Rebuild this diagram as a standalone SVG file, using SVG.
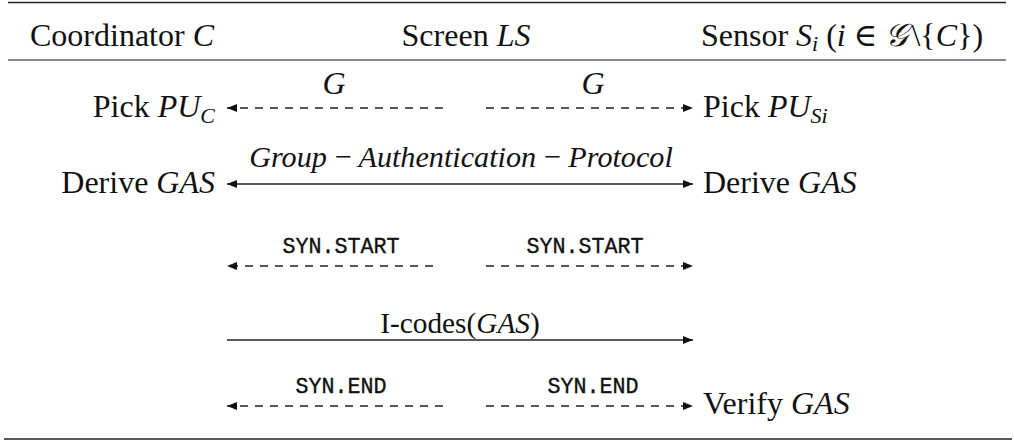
<svg xmlns="http://www.w3.org/2000/svg" width="1014" height="441" viewBox="0 0 1014 441">
<defs>
<style>
.t{font-family:"Liberation Serif","DejaVu Serif",serif;font-size:32px;fill:#111}
.i{font-style:italic}
.m{font-family:"Liberation Mono","DejaVu Sans Mono",monospace;font-size:21.7px;fill:#111;stroke:#111;stroke-width:0.35}
.l{fill:none;stroke:#222;stroke-width:1.3}
.d{stroke-dasharray:8 7}
</style>
<marker id="ah" viewBox="0 0 10 8" refX="10" refY="4" markerWidth="10" markerHeight="8" markerUnits="userSpaceOnUse" orient="auto-start-reverse">
<path d="M0,0 L10,4 L0,8 Z" fill="#111"/>
</marker>
</defs>
<rect width="1014" height="441" fill="#fff"/>
<g id="rules">
<line x1="8" y1="2.5" x2="1006" y2="2.5" stroke="#222" stroke-width="1.5"/>
<line x1="8" y1="60" x2="1006" y2="60" stroke="#888" stroke-width="2"/>
<line x1="4" y1="439" x2="1012" y2="439" stroke="#222" stroke-width="1.5"/>
</g>
<g id="header">
<text class="t" x="122" y="46" text-anchor="middle">Coordinator <tspan class="i">C</tspan></text>
<text class="t" x="466" y="46" text-anchor="middle">Screen <tspan class="i">LS</tspan></text>
<text class="t" x="842" y="46" text-anchor="middle">Sensor <tspan class="i">S</tspan><tspan class="i" font-size="22" dy="5">i</tspan><tspan dy="-5"> (</tspan><tspan class="i">i</tspan> ∈ <tspan font-family="DejaVu Serif" font-style="italic">𝒢</tspan><tspan dx="3">\</tspan>{<tspan class="i">C</tspan>})</text>
</g>
<g id="node-coordinator">
<text class="t" x="215" y="117" text-anchor="end">Pick <tspan class="i">PU</tspan><tspan class="i" font-size="22" dy="6">C</tspan></text>
<text class="t" x="215" y="193" text-anchor="end">Derive <tspan class="i">GAS</tspan></text>
</g>
<g id="node-sensor">
<text class="t" x="703" y="117">Pick <tspan class="i">PU</tspan><tspan class="i" font-size="22" dy="6">Si</tspan></text>
<text class="t" x="703" y="193">Derive <tspan class="i">GAS</tspan></text>
<text class="t" x="703" y="414">Verify <tspan class="i">GAS</tspan></text>
</g>
<g id="connectors">
<line class="l d" x1="443" y1="108" x2="227" y2="108" marker-end="url(#ah)"/>
<line class="l d" x1="486" y1="108" x2="693" y2="108" marker-end="url(#ah)"/>
<line class="l" x1="227" y1="184" x2="693" y2="184" marker-start="url(#ah)" marker-end="url(#ah)"/>
<line class="l d" x1="433" y1="266" x2="227" y2="266" marker-end="url(#ah)"/>
<line class="l d" x1="486" y1="266" x2="693" y2="266" marker-end="url(#ah)"/>
<line class="l" x1="227" y1="340" x2="693" y2="340" marker-end="url(#ah)"/>
<line class="l d" x1="443" y1="406" x2="227" y2="406" marker-end="url(#ah)"/>
<line class="l d" x1="486" y1="406" x2="693" y2="406" marker-end="url(#ah)"/>
</g>
<g id="labels">
<text class="t i" x="334" y="94" text-anchor="middle">G</text>
<text class="t i" x="593" y="94" text-anchor="middle">G</text>
<text class="t i" x="461" y="167" text-anchor="middle" style="font-size:30.2px">Group <tspan font-style="normal">−</tspan> Authentication <tspan font-style="normal">−</tspan> Protocol</text>
<text class="m" x="341" y="253" text-anchor="middle">SYN.START</text>
<text class="m" x="585" y="253" text-anchor="middle">SYN.START</text>
<text class="t" x="460" y="333" text-anchor="middle" style="font-size:29.3px">I-codes(<tspan class="i">GAS</tspan>)</text>
<text class="m" x="341" y="393" text-anchor="middle">SYN.END</text>
<text class="m" x="593" y="393" text-anchor="middle">SYN.END</text>
</g>
</svg>
